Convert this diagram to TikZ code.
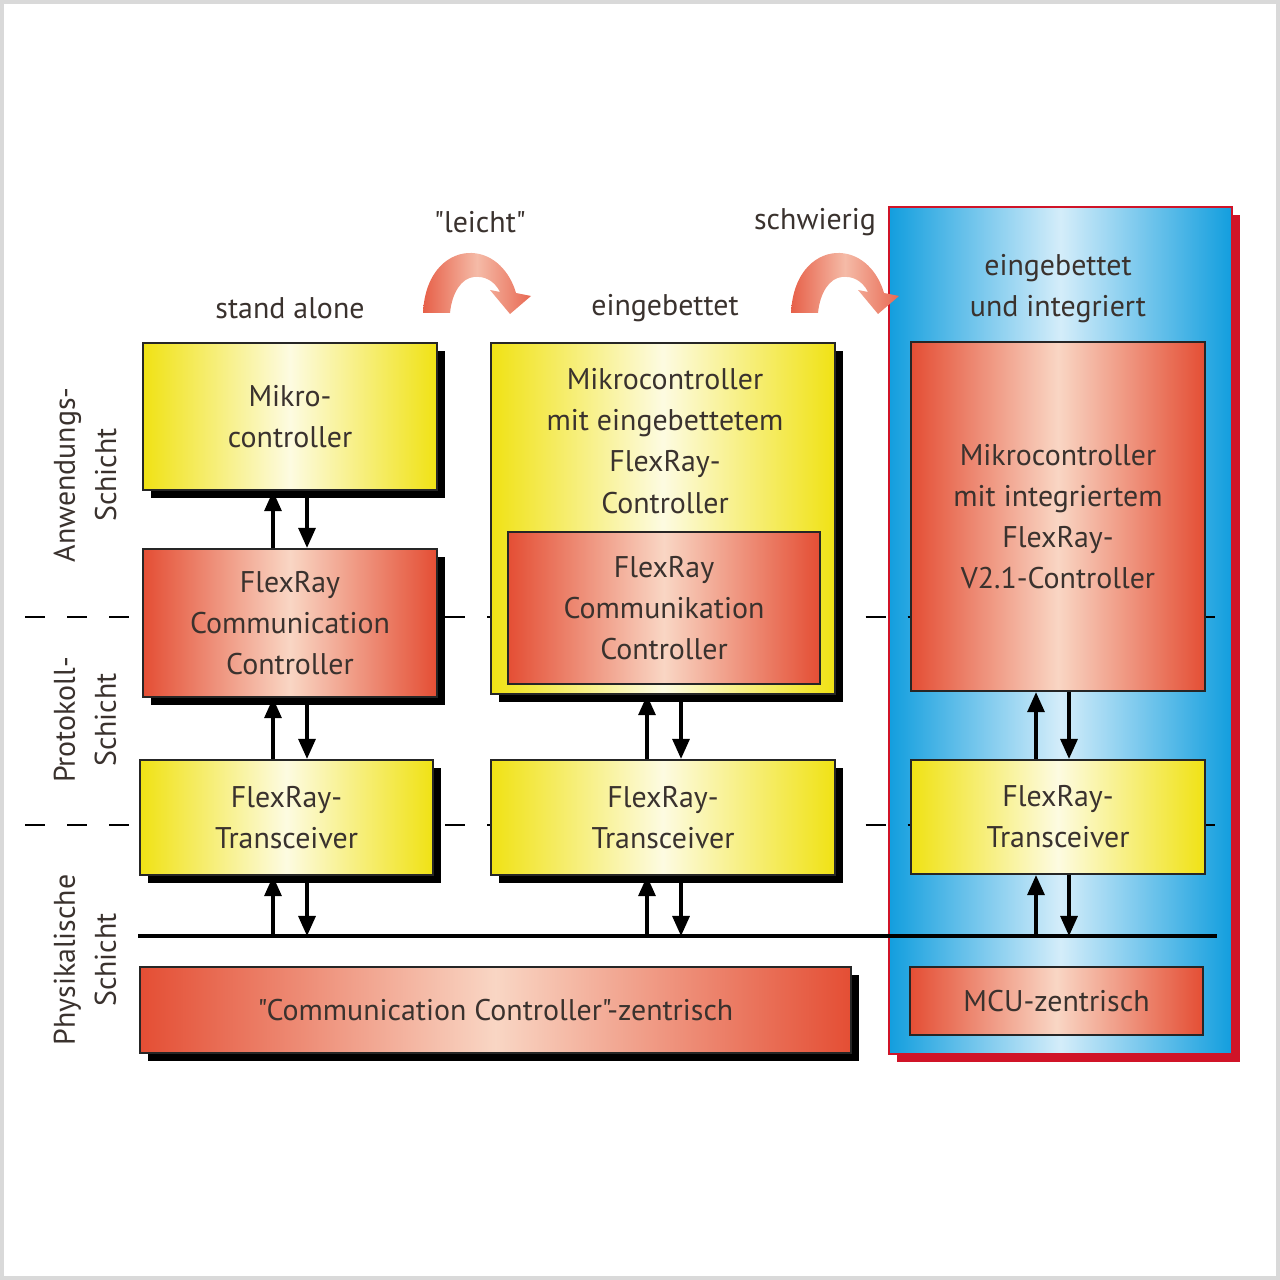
\documentclass[tikz,border=0pt]{standalone}
\usepackage{fontspec}
\setmainfont{PT Sans}[Ligatures=TeXOff]
\usetikzlibrary{arrows.meta,shadows}
\definecolor{gelb}{RGB}{240,226,20}
\definecolor{gelbhell}{RGB}{253,251,225}
\definecolor{rot}{RGB}{228,78,52}
\definecolor{rothell}{RGB}{249,214,196}
\definecolor{blau}{RGB}{18,158,222}
\definecolor{blauhell}{RGB}{212,237,250}
\definecolor{schrift}{RGB}{58,50,46}
\definecolor{rahmen}{RGB}{208,20,40}
\tikzset{
flex/.style={font=\fontsize{8.5}{11.7}\selectfont,text=schrift,inner sep=0pt,align=center},
kasten/.style={flex,draw=black!85,line width=0.6pt},
gelbkasten/.style={kasten,left color=gelb,right color=gelb,middle color=gelbhell},
rotkasten/.style={kasten,left color=rot,right color=rot,middle color=rothell},
schatten/.style={drop shadow={shadow xshift=0.08cm,shadow yshift=-0.08cm,opacity=1,fill=#1}},
schatten/.default={black},
schicht/.style={flex,rotate=90},
pfeil/.style={line width=0.9pt,-{Triangle[length=0.2cm,width=0.17cm]}},
trenn/.style={line width=0.85pt,dash pattern=on 0.2cm off 0.22cm},
}
\begin{document}
\begin{tikzpicture}[x=0.01cm,y=-0.01cm]
\useasboundingbox (0,0) rectangle (1280,1280);
\draw[gray!30,line width=1.2pt] (2,2) rectangle (1278,1278);

% rechte Spalte
\node[kasten,draw=rahmen,left color=blau,right color=blau,middle color=blauhell,
      schatten=rahmen,minimum width=3.43cm,minimum height=8.47cm] (panel) at (1060.5,630.5) {};

% Schichtgrenzen und Bus
\coordinate (d1l) at (25,617);
\coordinate (d1r) at (1215,617);
\coordinate (d2l) at (25,825);
\coordinate (d2r) at (1215,825);
\draw[trenn] (d1l) -- (d1r);
\draw[trenn] (d2l) -- (d2r);
\coordinate (busl) at (138,936);
\coordinate (busr) at (1217,936);
\draw[line width=1.1pt] (busl) -- (busr);

% Überschriften
\node[flex] (standalone) at (290,308) {stand alone};
\node[flex] (eingebettet) at (665,308) {eingebettet};
\node[flex] (integriert) at (1058,289) {eingebettet\\und integriert};
\node[flex] (leicht) at (480,222) {"leicht"};
\node[flex] (schwierig) at (815,222) {schwierig};
\foreach \dx in {0,368}
  \shade[shift={(\dx,0)},left color=rot!90,right color=rot!85,middle color=rothell!80!rot]
    (423,313) .. controls (425,270) and (450,252) .. (472,253)
    .. controls (494,254) and (510,272) .. (516,293) -- (531,296) -- (510,314)
    -- (490,290) -- (500,292) .. controls (494,280) and (484,276) .. (474,277)
    .. controls (462,278) and (452,292) .. (450,313) -- cycle;

% Schichten
\node[schicht] (anw) at (85,475) {Anwendungs-\\Schicht};
\node[schicht] (prot) at (85,720) {Protokoll-\\Schicht};
\node[schicht] (phys) at (85,960) {Physikalische\\Schicht};

% stand alone
\node[gelbkasten,schatten,minimum width=2.94cm,minimum height=1.47cm] (mikro) at (290,416.5) {Mikro-\\controller};
\node[rotkasten,schatten,minimum width=2.94cm,minimum height=1.48cm] (fcc) at (290,623) {FlexRay\\Communication\\Controller};
\node[gelbkasten,schatten,minimum width=2.93cm,minimum height=1.15cm] (trans1) at (286.5,817.5) {FlexRay-\\Transceiver};

% eingebettet
\node[gelbkasten,schatten,minimum width=3.44cm,minimum height=3.51cm] (mcemb) at (663,518.5) {};
\node[flex] (mcembtext) at (665,441) {Mikrocontroller\\mit eingebettetem\\FlexRay-\\Controller};
\node[rotkasten,minimum width=3.12cm,minimum height=1.52cm] (fcc2) at (664,608) {FlexRay\\Communikation\\Controller};
\node[gelbkasten,schatten,minimum width=3.44cm,minimum height=1.15cm] (trans2) at (663,817.5) {FlexRay-\\Transceiver};

% eingebettet und integriert
\node[rotkasten,minimum width=2.94cm,minimum height=3.49cm] (mcint) at (1058,516.5) {Mikrocontroller\\mit integriertem\\FlexRay-\\V2.1-Controller};
\node[gelbkasten,minimum width=2.94cm,minimum height=1.14cm] (trans3) at (1058,817) {FlexRay-\\Transceiver};

% Zentrierung
\node[rotkasten,schatten,minimum width=7.11cm,minimum height=0.86cm] (cczentr) at (495.5,1010) {"Communication Controller"-zentrisch};
\node[rotkasten,minimum width=2.93cm,minimum height=0.68cm] (mcuzentr) at (1056.5,1001) {MCU-zentrisch};

% Pfeile
\draw[pfeil] ([xshift=-0.17cm]fcc.north) -- ([xshift=-0.17cm]fcc.north |- mikro.south);
\draw[pfeil] ([xshift=0.17cm]fcc.north |- mikro.south) -- ([xshift=0.17cm]fcc.north);
\draw[pfeil] ([xshift=-0.17cm]fcc.south |- trans1.north) -- ([xshift=-0.17cm]fcc.south);
\draw[pfeil] ([xshift=0.17cm]fcc.south) -- ([xshift=0.17cm]fcc.south |- trans1.north);
\draw[pfeil] ([xshift=-0.17cm]fcc.south |- busl) -- ([xshift=-0.17cm]fcc.south |- trans1.south);
\draw[pfeil] ([xshift=0.17cm]fcc.south |- trans1.south) -- ([xshift=0.17cm]fcc.south |- busl);

\draw[pfeil] ([xshift=-0.16cm]trans2.north) -- ([xshift=-0.16cm]trans2.north |- mcemb.south);
\draw[pfeil] ([xshift=0.18cm]trans2.north |- mcemb.south) -- ([xshift=0.18cm]trans2.north);
\draw[pfeil] ([xshift=-0.16cm]trans2.south |- busl) -- ([xshift=-0.16cm]trans2.south);
\draw[pfeil] ([xshift=0.18cm]trans2.south) -- ([xshift=0.18cm]trans2.south |- busl);

\draw[pfeil] ([xshift=-0.22cm]trans3.north) -- ([xshift=-0.22cm]mcint.south);
\draw[pfeil] ([xshift=0.11cm]mcint.south) -- ([xshift=0.11cm]trans3.north);
\draw[pfeil] ([xshift=-0.22cm]trans3.south |- busl) -- ([xshift=-0.22cm]trans3.south);
\draw[pfeil] ([xshift=0.11cm]trans3.south) -- ([xshift=0.11cm]trans3.south |- busl);
\end{tikzpicture}
\end{document}
